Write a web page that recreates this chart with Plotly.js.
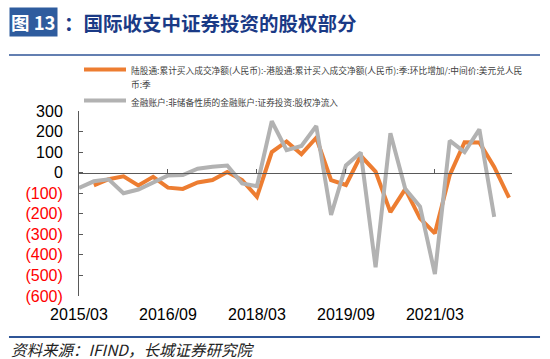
<!DOCTYPE html>
<html>
<head>
<meta charset="utf-8">
<script src="https://cdn.plot.ly/plotly-3.0.1.min.js"></script>
<style>html,body{margin:0;padding:0;background:#fff;}#chart{width:550px;height:359px;}</style>
</head>
<body>
<div id="chart"></div>
<script>
var categories = ['2015/03','2015/06','2015/09','2015/12','2016/03','2016/06','2016/09','2016/12',
  '2017/03','2017/06','2017/09','2017/12','2018/03','2018/06','2018/09','2018/12',
  '2019/03','2019/06','2019/09','2019/12','2020/03','2020/06','2020/09','2020/12',
  '2021/03','2021/06','2021/09','2021/12','2022/03','2022/06'];

var orangeName = '陆股通:累计买入成交净额(人民币):-港股通:累计买入成交净额(人民币):季:环比增加/:中间价:美元兑人民<br>币:季';
var grayName = '金融账户:非储备性质的金融账户:证券投资:股权净流入';

var orangeValues = [null,-62,-32,-18,-62,-20,-73,-79,-48,-36,3,-36,-117,100,152,90,
  170,-36,-60,82,5,-192,-80,-222,-295,-12,148,147,28,-122];
var grayValues = [-74,-42,-32,-100,-82,-47,-14,-12,19,29,35,-52,-66,250,110,130,
  227,-206,35,98,-460,192,-78,-165,-493,156,100,211,-215,null];

var xTickLabels = ['2015/03','2016/09','2018/03','2019/09','2021/03'];
var yTickValues = [300,200,100,0,-100,-200,-300,-400,-500,-600];
var yTickText = yTickValues.map(function(v){
  return v < 0 ? '<span style="color:#FF0000">(' + Math.abs(v) + ')</span>' : String(v);
});
var zeroTickIdx = [6,12,18,24];

var font = '"Liberation Sans", Arial, sans-serif';
var cjk = '"Noto Sans CJK SC", "Noto Sans", sans-serif';

function small(s) {
  return s.split('<br>').map(function(p){
    return '<span style="font-size:8.7px">' + p + '</span>';
  }).join('<br>');
}

var traces = [
  {x: categories, y: orangeValues, type: 'scatter', mode: 'lines', name: small(orangeName),
   line: {color: '#ED7D31', width: 4}, connectgaps: false, legendgroup: 'a'},
  {x: categories, y: grayValues, type: 'scatter', mode: 'lines', name: small(grayName),
   line: {color: '#B2B2B2', width: 4}, connectgaps: false, legendgroup: 'b'},
  {x: [], y: [], xaxis: 'x2', yaxis: 'y', type: 'scatter', mode: 'lines', showlegend: false, hoverinfo: 'skip'}
];

var layout = {
  width: 550, height: 359,
  margin: {l: 79, r: 38, t: 111, b: 63},
  paper_bgcolor: '#ffffff', plot_bgcolor: '#ffffff',
  showlegend: true,
  legend: {x: 0, y: 1.298, xanchor: 'left', yanchor: 'top', orientation: 'v',
    font: {family: cjk, size: 10.8, color: '#404040'}, bgcolor: 'rgba(0,0,0,0)',
    itemwidth: 42, valign: 'top', tracegroupgap: 0, traceorder: 'normal'},
  xaxis: {type: 'category', range: [0, 29.2], showline: false, showgrid: false, zeroline: false,
    ticks: '', tickmode: 'array', tickvals: xTickLabels, ticktext: xTickLabels,
    tickfont: {family: font, size: 16, color: '#000'}, ticklabelstandoff: 7, fixedrange: true},
  xaxis2: {type: 'linear', overlaying: 'x', anchor: 'free', position: 600/900, side: 'bottom',
    range: [0, 29.2], showline: true, linecolor: '#595959', linewidth: 1.3,
    ticks: 'inside', ticklen: 4, tickcolor: '#595959', tickwidth: 1,
    tickmode: 'array', tickvals: zeroTickIdx, showticklabels: false,
    showgrid: false, zeroline: false},
  yaxis: {range: [-600, 300], showline: true, linecolor: '#595959', linewidth: 1,
    ticks: 'inside', ticklen: 4, tickcolor: '#595959', tickmode: 'array',
    tickvals: yTickValues, ticktext: yTickText, showgrid: false, zeroline: false,
    tickfont: {family: font, size: 16, color: '#000'}, ticklabelstandoff: 12},
  shapes: [
    {type: 'line', xref: 'paper', yref: 'paper', x0: -0.1617, x1: 1.0647, y0: 1.3027, y1: 1.3027,
     line: {color: '#2F5597', width: 1.5}},
    {type: 'line', xref: 'paper', yref: 'paper', x0: -0.1617, x1: 1.0647, y0: -0.2216, y1: -0.2216,
     line: {color: '#2F5597', width: 2.2}}
  ],
  annotations: [
    {xref: 'paper', yref: 'paper', x: -0.1617, y: 1.481, xanchor: 'left', yanchor: 'middle',
     text: '<b>图 13</b>', showarrow: false, bgcolor: '#2E5C9E', borderpad: 1,
     font: {family: cjk, size: 18.5, color: '#ffffff'}},
    {xref: 'paper', yref: 'paper', x: -0.04, y: 1.481, xanchor: 'left', yanchor: 'middle',
     text: '<b>：国际收支中证券投资的股权部分</b>', showarrow: false,
     font: {family: cjk, size: 19.5, color: '#1A3A86'}},
    {xref: 'paper', yref: 'paper', x: -0.1617, y: -0.286, xanchor: 'left', yanchor: 'middle',
     text: '<i>资料来源：IFIND，长城证券研究院</i>', showarrow: false,
     font: {family: cjk, size: 15.5, color: '#222222'}}
  ]
};

Plotly.newPlot('chart', traces, layout, {staticPlot: true, displayModeBar: false});
</script>
</body>
</html>
